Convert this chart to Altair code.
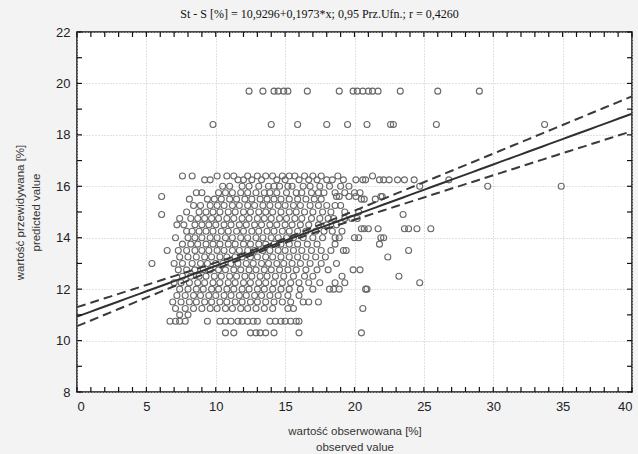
import altair as alt
import numpy as np
import pandas as pd

# ---- data ----
TITLE = "St - S [%] = 10,9296+0,1973*x; 0,95 Prz.Ufn.; r = 0,4260"
X_TITLE = ["wartość obserwowana [%]", "observed value"]
Y_TITLE = ["wartość przewidywana [%]", "predicted value"]

intercept = 10.9296
slope = 0.1973
# confidence-band half-widths
band_at_0 = 0.37
band_at_mean = 0.08
band_at_40 = 0.68
x_mean = 13.98

x_label_values = [0, 5, 10, 15, 20, 25, 30, 35, 40]
y_label_values = [8, 10, 12, 14, 16, 18, 20, 22]
x_minor = list(range(0, 41))
y_minor = list(range(8, 23))

rows = {
    19.7: [12.4, 13.4, 14.2, 14.5, 14.9, 15.2, 16.6, 18.9, 19.9, 20.2, 20.6, 21.0, 21.3, 21.7, 23.3, 26.0, 29.0],
    18.4: [9.8, 14.0, 15.9, 18.0, 19.5, 20.9, 22.6, 22.8, 25.9, 33.7],
    16.4: [7.6, 8.3, 10.1, 10.8, 11.3, 12.3, 13.0, 13.6, 14.1, 14.8, 15.3, 15.7, 16.4, 17.0, 17.6, 18.8, 21.3],
    16.25: [9.2, 9.6, 11.6, 12.0, 12.6, 13.3, 14.4, 15.0, 16.0, 16.7, 17.3, 18.0, 18.4, 19.2, 20.1, 20.6, 20.8, 21.8, 22.1, 22.5, 23.1, 23.6, 24.3, 26.8],
    16.0: [10.5, 11.0, 11.9, 12.4, 13.1, 13.8, 14.2, 14.6, 15.2, 15.5, 16.3, 16.8, 17.5, 18.2, 19.0, 19.6, 24.7, 29.6, 34.9],
    15.75: [8.6, 9.0, 10.2, 10.7, 11.2, 11.8, 12.3, 12.9, 13.5, 13.9, 14.4, 15.1, 15.8, 16.2, 16.9, 17.4, 17.8, 18.6, 19.3, 20.0, 20.4],
    15.6: [6.1, 18.7, 18.9, 19.6, 20.1, 21.9, 22.0],
    15.5: [8.1, 9.4, 9.9, 10.4, 11.0, 11.5, 12.1, 12.6, 13.2, 13.7, 14.2, 14.7, 15.3, 15.9, 16.5, 17.1, 17.6, 20.5, 20.7, 21.5],
    15.25: [8.4, 8.9, 9.6, 10.1, 10.6, 11.2, 11.7, 12.3, 12.8, 13.4, 13.9, 14.5, 15.0, 15.6, 16.1, 16.8, 17.4, 18.0, 18.6, 19.0],
    15.0: [7.9, 8.8, 9.3, 9.8, 10.3, 10.9, 11.4, 12.0, 12.5, 13.1, 13.6, 14.1, 14.7, 15.3, 15.8, 16.4, 17.0, 17.7, 18.3, 19.3, 20.3],
    14.9: [6.1, 23.5],
    14.75: [7.4, 8.2, 8.7, 9.2, 9.7, 10.2, 10.8, 11.3, 11.9, 12.4, 13.0, 13.5, 14.0, 14.6, 15.1, 15.7, 16.2, 16.9, 17.5, 18.1, 18.5, 19.3, 19.8, 20.2],
    14.5: [7.2, 7.7, 8.5, 9.0, 9.5, 10.0, 10.6, 11.1, 11.7, 12.2, 12.8, 13.3, 13.9, 14.4, 15.0, 15.5, 16.1, 16.7, 17.4, 18.0, 18.7],
    14.35: [20.5, 20.7, 21.0, 21.7, 23.6, 23.9, 24.5, 25.5],
    14.25: [7.9, 8.3, 8.8, 9.3, 9.8, 10.4, 10.9, 11.5, 12.0, 12.6, 13.1, 13.7, 14.2, 14.8, 15.3, 15.9, 16.5, 17.2, 17.8, 18.4, 19.1],
    14.0: [7.1, 8.0, 8.5, 9.0, 9.6, 10.1, 10.7, 11.2, 11.8, 12.3, 12.9, 13.4, 14.0, 14.5, 15.1, 15.6, 16.3, 17.0, 17.7, 18.6, 18.9, 20.0, 20.3, 21.9, 22.1],
    13.75: [7.6, 8.2, 8.7, 9.3, 9.8, 10.3, 10.9, 11.4, 12.0, 12.5, 13.1, 13.6, 14.2, 14.7, 15.3, 15.9, 16.6, 17.3, 18.6, 21.8],
    13.5: [6.5, 7.3, 7.9, 8.5, 9.0, 9.5, 10.1, 10.6, 11.2, 11.7, 12.3, 12.8, 13.4, 13.9, 14.5, 15.0, 15.6, 16.2, 16.9, 17.6, 18.3, 19.2, 19.4, 23.9],
    13.25: [7.4, 8.0, 8.6, 9.2, 9.7, 10.3, 10.8, 11.4, 11.9, 12.5, 13.0, 13.6, 14.1, 14.7, 15.3, 15.9, 16.5, 17.2, 17.9, 22.4],
    13.0: [5.4, 7.0, 7.6, 8.3, 8.9, 9.4, 10.0, 10.5, 11.1, 11.6, 12.2, 12.7, 13.3, 13.8, 14.4, 14.9, 15.5, 16.1, 16.8, 17.6, 18.7],
    12.75: [7.3, 7.9, 8.5, 9.1, 9.6, 10.2, 10.7, 11.3, 11.8, 12.4, 12.9, 13.5, 14.0, 14.6, 15.2, 15.8, 16.5, 17.3, 18.1, 19.9, 20.4],
    12.5: [7.6, 8.2, 8.8, 9.3, 9.9, 10.4, 11.0, 11.5, 12.1, 12.6, 13.2, 13.7, 14.3, 14.9, 15.6, 16.4, 17.0, 19.1, 23.2],
    12.25: [7.0, 7.5, 8.1, 8.7, 9.2, 9.8, 10.3, 10.9, 11.4, 12.0, 12.5, 13.1, 13.6, 14.2, 14.8, 15.4, 16.0, 16.7, 17.5, 18.6, 19.3, 24.7],
    12.0: [7.4, 8.0, 8.6, 9.1, 9.7, 10.2, 10.8, 11.3, 11.9, 12.4, 13.0, 13.5, 14.1, 14.7, 15.3, 16.1, 17.0, 18.2, 18.5, 18.9, 20.8, 20.9],
    11.75: [7.2, 7.8, 8.4, 8.9, 9.5, 10.0, 10.6, 11.1, 11.7, 12.2, 12.8, 13.3, 13.9, 14.5, 15.2, 16.0],
    11.5: [6.9, 7.5, 8.1, 8.6, 9.2, 9.7, 10.3, 10.8, 11.4, 11.9, 12.5, 13.0, 13.6, 14.2, 14.8, 15.4, 16.3, 16.7, 17.4],
    11.25: [7.1, 7.8, 8.4, 9.0, 9.6, 10.1, 10.7, 11.2, 11.8, 12.3, 12.9, 13.5, 14.1, 15.2, 15.6, 20.6],
    11.0: [7.4, 8.0],
    10.75: [6.7, 7.1, 7.4, 7.8, 9.4, 10.3, 10.7, 11.1, 11.6, 11.9, 12.3, 12.7, 13.0, 13.9, 14.3, 14.7, 15.0, 15.4, 15.8, 16.0],
    10.3: [10.7, 11.3, 12.5, 12.9, 13.2, 13.6, 14.2, 16.0, 20.5],
}

pts = pd.DataFrame(
    [{"obs": x, "pred": y} for y, xs in rows.items() for x in xs]
)

# regression line and 95% band (from the title's coefficients and read widths)
a = band_at_mean ** 2
b = (band_at_0 ** 2 - a) / x_mean ** 2
xs_line = np.linspace(0, 40, 81)
fit = intercept + slope * xs_line
half = np.sqrt(a + b * (xs_line - x_mean) ** 2)
line_df = pd.DataFrame({"obs": xs_line, "fit": fit, "lo": fit - half, "hi": fit + half})

W, H = 555, 360
xscale = alt.Scale(domain=[0, 40], nice=False, zero=False)
yscale = alt.Scale(domain=[8, 22], nice=False, zero=False)

label_font = "Liberation Sans"

x_axis = alt.Axis(
    values=x_label_values, grid=True, gridColor="#c4c4c4", gridDash=[1, 2],
    ticks=False, domain=False, labelFont=label_font, labelFontSize=13,
    labelColor="#222", labelPadding=8, title=X_TITLE, titleFont=label_font,
    titleFontSize=11.5, titleFontWeight="normal", titleColor="#333",
    titlePadding=12, titleLineHeight=16, format="d",
)
y_axis = alt.Axis(
    values=y_label_values, grid=True, gridColor="#c4c4c4", gridDash=[1, 2],
    ticks=False, domain=False, labelFont=label_font, labelFontSize=13,
    labelColor="#222", labelPadding=7, title=Y_TITLE, titleFont=label_font,
    titleFontSize=11.5, titleFontWeight="normal", titleColor="#333",
    titlePadding=14, titleLineHeight=16, format="d",
)

points = alt.Chart(pts).mark_point(
    shape="circle", filled=False, size=36, strokeWidth=1.1, color="#686868", opacity=1
).encode(
    x=alt.X("obs:Q", scale=xscale, axis=x_axis),
    y=alt.Y("pred:Q", scale=yscale, axis=y_axis),
)

base_line = alt.Chart(line_df)
fit_line = base_line.mark_line(color="#303030", strokeWidth=2).encode(
    x=alt.X("obs:Q", scale=xscale), y=alt.Y("fit:Q", scale=yscale)
)
lo_line = base_line.mark_line(color="#3a3a3a", strokeWidth=2, strokeDash=[9, 5]).encode(
    x=alt.X("obs:Q", scale=xscale), y=alt.Y("lo:Q", scale=yscale)
)
hi_line = base_line.mark_line(color="#3a3a3a", strokeWidth=2, strokeDash=[9, 5]).encode(
    x=alt.X("obs:Q", scale=xscale), y=alt.Y("hi:Q", scale=yscale)
)

xt = pd.DataFrame({"t": x_minor})
yt = pd.DataFrame({"t": y_minor})
tick_style = dict(color="#111", strokeWidth=1.2)
bottom_ticks = alt.Chart(xt).mark_rule(**tick_style).encode(
    x=alt.X("t:Q", scale=xscale), y=alt.value(H), y2=alt.value(H - 5)
)
top_ticks = alt.Chart(xt).mark_rule(**tick_style).encode(
    x=alt.X("t:Q", scale=xscale), y=alt.value(0), y2=alt.value(5)
)
left_ticks = alt.Chart(yt).mark_rule(**tick_style).encode(
    y=alt.Y("t:Q", scale=yscale), x=alt.value(0), x2=alt.value(5)
)
right_ticks = alt.Chart(yt).mark_rule(**tick_style).encode(
    y=alt.Y("t:Q", scale=yscale), x=alt.value(W), x2=alt.value(W - 5)
)

chart = alt.layer(
    points, lo_line, hi_line, fit_line,
    bottom_ticks, top_ticks, left_ticks, right_ticks,
).properties(
    width=W, height=H,
    title=alt.TitleParams(
        TITLE, font="Liberation Serif", fontSize=12, fontWeight="normal",
        color="#111", anchor="middle", offset=5, dx=-35,
    ),
    autosize=alt.AutoSizeParams(type="none"),
    padding={"left": 77, "top": 32, "right": 6, "bottom": 62},
    background="#f3f3f3",
).configure_view(
    fill="white", stroke="#111", strokeWidth=1.5
)

chart.save("out.html", embed_options={"renderer": "svg", "actions": False})
